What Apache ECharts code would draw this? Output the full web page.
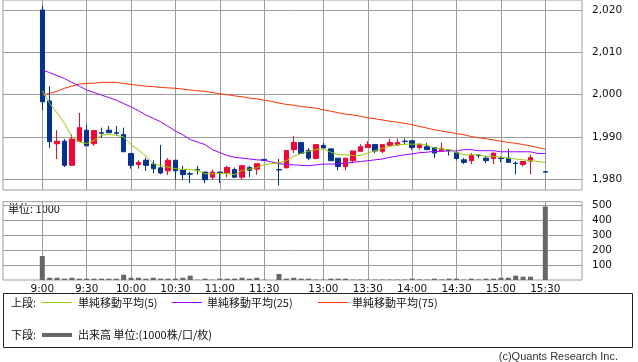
<!DOCTYPE html>
<html>
<head>
<meta charset="utf-8">
<script src="https://cdn.jsdelivr.net/npm/echarts@6/dist/echarts.min.js"></script>
<style>
html,body{margin:0;padding:0;background:#fff;}
#c{width:638px;height:362px;}
</style>
</head>
<body>
<div id="c"></div>
<script>
const categories = [
 '9:00','9:05','9:10','9:15','9:20','9:25','9:30','9:35','9:40','9:45','9:50','9:55',
 '10:00','10:05','10:10','10:15','10:20','10:25','10:30','10:35','10:40','10:45','10:50','10:55',
 '11:00','11:05','11:10','11:15','11:20','11:25','11:30',
 '',
 '12:30','12:35','12:40','12:45','12:50','12:55',
 '13:00','13:05','13:10','13:15','13:20','13:25','13:30','13:35','13:40','13:45','13:50','13:55',
 '14:00','14:05','14:10','14:15','14:20','14:25','14:30','14:35','14:40','14:45','14:50','14:55',
 '15:00','15:05','15:10','15:15','15:20','15:25','15:30'
];
const tickLabels = ['9:00','9:30','10:00','10:30','11:00','11:30','13:00','13:30','14:00','14:30','15:00','15:30'];
const priceTicks = [1980, 1990, 2000, 2010, 2020];
const volumeTicks = [100, 200, 300, 400, 500];

const opens = [
 2020.0,1998.5,1988.4,1989.0,1983.3,1988.9,1991.6,1988.4,1991.0,1991.6,1991.0,1990.6,
 1986.1,1983.5,1984.5,1983.6,1982.7,1982.0,1984.5,1982.2,1981.3,1982.3,1981.7,1980.5,
 1981.7,1981.5,1982.3,1980.5,1982.8,1982.4,1984.7,
 null,
 1982.3,1982.7,1987.0,1988.7,1986.8,1984.9,
 1988.0,1987.2,1985.0,1983.0,1984.4,1986.6,1987.5,1988.2,1986.6,1988.0,1988.2,1989.0,
 1989.1,1987.5,1987.7,1987.5,1986.7,1986.9,1986.3,1984.6,1984.4,1985.7,1985.0,1984.9,
 1985.0,1985.0,1983.8,1983.5,1984.3,null,1981.8
];
const closes = [
 1998.3,1988.9,1989.0,1983.3,1989.5,1992.2,1987.9,1991.5,1990.9,1991.0,1990.9,1986.5,
 1983.3,1984.0,1983.3,1982.5,1981.5,1984.5,1982.0,1981.1,1981.2,1982.2,1979.9,1981.7,
 1981.6,1982.8,1980.5,1983.2,1982.1,1983.7,1984.4,
 null,
 1982.2,1986.8,1988.7,1986.1,1985.0,1988.2,
 1987.4,1984.4,1983.0,1985.0,1986.7,1987.7,1988.2,1986.7,1988.2,1988.7,1988.7,1988.9,
 1987.5,1988.3,1987.0,1986.2,1987.2,1986.8,1984.9,1984.0,1985.6,1985.6,1984.4,1986.2,
 1984.9,1984.0,1983.7,1984.2,1985.1,null,1981.7
];
const lows = [
 1996.3,1987.4,1984.8,1982.9,1983.3,1988.9,1987.9,1987.9,1989.8,1991.0,1990.4,1986.5,
 1982.5,1982.5,1982.0,1981.4,1981.2,1981.0,1979.9,1979.9,1979.1,1981.1,1979.1,1979.9,
 1979.1,1980.5,1980.3,1979.9,1980.5,1981.1,1984.4,
 null,
 1978.5,1982.7,1986.2,1986.1,1984.5,1984.9,
 1987.2,1984.4,1982.1,1982.1,1983.8,1986.6,1987.5,1986.2,1986.2,1988.0,1987.8,1988.3,
 1987.0,1987.0,1987.0,1985.0,1986.7,1985.6,1984.5,1983.6,1983.6,1985.0,1983.8,1983.6,
 1984.0,1984.0,1981.2,1983.0,1981.2,null,1981.7
];
const highs = [
 2021.0,2002.0,1991.6,1989.5,1990.6,1995.7,1993.0,1991.6,1992.2,1992.6,1992.6,1992.2,
 1986.1,1984.5,1985.1,1984.5,1988.1,1985.0,1984.5,1983.2,1981.8,1983.2,1981.7,1982.3,
 1981.7,1983.2,1982.8,1983.2,1983.2,1983.7,1984.7,
 null,
 1984.8,1986.8,1990.2,1988.7,1987.4,1988.2,
 1988.6,1987.2,1985.0,1985.0,1986.7,1988.3,1989.0,1988.2,1988.2,1989.6,1989.6,1989.6,
 1989.1,1988.3,1988.6,1987.5,1988.7,1987.0,1986.6,1985.0,1986.2,1985.8,1985.4,1986.2,
 1985.4,1987.2,1984.2,1984.2,1985.8,null,1981.8
];
const ma5 = [
 2000.9,1997.9,1995.7,1993.2,1990.0,1988.85,1988.45,1989.2,1990.4,1990.6,1990.4,1990.0,
 1988.2,1986.9,1985.5,1983.7,1983.2,1982.9,1982.5,1982.3,1982.3,1982.1,1981.3,1981.3,
 1981.3,1981.4,1981.1,1982.1,1982.4,1982.7,1983.5,
 1983.7,
 1983.9,1984.4,1985.4,1986.1,1986.6,1987.0,
 1987.2,1986.4,1985.8,1985.8,1985.6,1985.6,1986.2,1986.8,1987.3,1987.8,1988.1,1988.3,
 1988.3,1988.3,1988.1,1987.4,1987.1,1987.0,1986.3,1985.8,1985.8,1985.8,1985.4,1985.4,
 1985.2,1985.0,1984.8,1984.6,1984.4,1984.2,1984.0
];
const ma25 = [
 2005.8,2005.2,2004.5,2003.8,2002.9,2002.0,2001.1,2000.5,1999.9,1999.3,1998.7,1997.9,
 1997.1,1996.2,1995.2,1994.4,1993.6,1992.5,1991.4,1990.5,1989.4,1988.8,1988.2,1987.0,
 1986.3,1985.6,1985.2,1985.0,1984.8,1984.6,1984.5,
 1984.1,
 1983.7,1983.5,1983.4,1983.3,1983.2,1983.4,
 1983.6,1983.6,1983.65,1983.8,1984.0,1984.2,1984.4,1984.6,1984.8,1985.2,1985.5,1985.8,
 1986.0,1986.3,1986.4,1986.6,1986.6,1986.7,1986.7,1987.0,1987.0,1986.75,1986.75,1986.75,
 1986.5,1986.5,1986.5,1986.5,1986.5,1986.1,1986.1
];
const ma75 = [
 1999.9,2000.3,2000.8,2001.5,2002.0,2002.5,2002.65,2002.7,2002.9,2002.9,2002.9,2002.65,
 2002.4,2002.2,2002.0,2001.9,2001.7,2001.6,2001.5,2001.3,2001.1,2000.9,2000.8,2000.5,
 2000.2,2000.0,1999.7,1999.5,1999.2,1999.0,1998.7,
 1998.4,
 1998.0,1997.7,1997.5,1997.2,1997.0,1996.8,
 1996.4,1996.1,1995.7,1995.4,1995.2,1994.9,1994.5,1994.3,1994.0,1993.7,1993.5,1993.2,
 1992.9,1992.5,1992.1,1991.7,1991.4,1991.1,1990.8,1990.5,1990.1,1989.8,1989.6,1989.3,
 1989.0,1988.7,1988.5,1988.2,1987.9,1987.5,1987.1
];
const volumes = [
 160,15,15,9,15,9,9,9,9,9,9,35,
 15,15,9,15,9,9,9,15,29,2,9,2,
 9,9,9,15,9,15,2,
 null,
 40,9,15,9,9,3,
 3,9,9,9,3,3,3,3,3,3,3,3,
 9,4,3,9,4,9,9,3,9,4,9,9,
 15,15,29,22,22,null,490
];

const candleData = opens.map((o, i) => o == null ? '-' : [o, closes[i], lows[i], highs[i]]);
const volData = volumes.map(v => v == null ? '-' : v);

const GRID_COLOR = '#9c9c9c';
const LABEL_FONT = 'DejaVu Sans, Noto Sans CJK JP, sans-serif';
const JP_FONT = 'Noto Sans CJK JP, DejaVu Sans, sans-serif';
const showAt = (i, v) => tickLabels.indexOf(v) >= 0;

const hiddenValue = (gi) => ({ type: 'value', gridIndex: gi, show: false, min: 0, max: 1 });

const chart = echarts.init(document.getElementById('c'), null, { renderer: 'canvas' });
chart.setOption({
  animation: false,
  backgroundColor: '#fff',
  grid: [
    { left: 3, top: 0, width: 579, height: 190, show: true, borderColor: GRID_COLOR, borderWidth: 1, backgroundColor: 'transparent', outerBoundsMode: 'none' },
    { left: 3, top: 10, width: 579, height: 169.3, outerBoundsMode: 'none' },
    { left: 42.3, top: 0, width: 503, height: 190, outerBoundsMode: 'none' },
    { left: 3, top: 201.7, width: 579, height: 78.3, show: true, borderColor: GRID_COLOR, borderWidth: 1, backgroundColor: 'transparent', outerBoundsMode: 'none' },
    { left: 3, top: 205, width: 579, height: 60, outerBoundsMode: 'none' },
    { left: 42.3, top: 201.7, width: 503, height: 78.3, outerBoundsMode: 'none' }
  ],
  xAxis: [
    hiddenValue(0),
    hiddenValue(1),
    { type: 'category', gridIndex: 2, data: categories, boundaryGap: false,
      axisLine: { show: false }, axisTick: { show: false }, axisLabel: { show: false },
      splitLine: { show: true, interval: showAt, lineStyle: { color: GRID_COLOR, width: 1 } } },
    hiddenValue(3),
    hiddenValue(4),
    { type: 'category', gridIndex: 5, data: categories, boundaryGap: false,
      axisLine: { show: false }, axisTick: { show: false },
      axisLabel: { show: true, interval: showAt, margin: 4, color: '#111', fontSize: 10.5, fontFamily: LABEL_FONT },
      splitLine: { show: true, interval: showAt, lineStyle: { color: GRID_COLOR, width: 1 } } }
  ],
  yAxis: [
    hiddenValue(0),
    { type: 'value', gridIndex: 1, position: 'right', min: priceTicks[0], max: priceTicks[priceTicks.length - 1], interval: 10,
      axisLine: { show: false },
      axisTick: { show: true, length: 6, lineStyle: { color: GRID_COLOR } },
      axisLabel: { margin: 10, color: '#111', fontSize: 10.5, fontFamily: LABEL_FONT,
        formatter: v => Number(v).toLocaleString('en-US') },
      splitLine: { show: true, lineStyle: { color: GRID_COLOR, width: 1 } } },
    { type: 'value', gridIndex: 2, show: false, min: 1977.47, max: 2022.36, scale: true },
    hiddenValue(3),
    { type: 'value', gridIndex: 4, position: 'right', min: volumeTicks[0], max: volumeTicks[volumeTicks.length - 1], interval: 100,
      axisLine: { show: false },
      axisTick: { show: true, length: 6, lineStyle: { color: GRID_COLOR } },
      axisLabel: { margin: 10, color: '#111', fontSize: 10.5, fontFamily: LABEL_FONT },
      splitLine: { show: true, lineStyle: { color: GRID_COLOR, width: 1 } } },
    { type: 'value', gridIndex: 5, show: false, min: 0, max: 522 }
  ],
  series: [
    { name: '株価', type: 'candlestick', xAxisIndex: 2, yAxisIndex: 2, data: candleData, clip: false,
      barWidth: 5,
      itemStyle: { color: '#ff0033', color0: '#003399', borderColor: '#ff0033', borderColor0: '#003399', borderWidth: 1 } },
    { name: '単純移動平均(75)', type: 'line', xAxisIndex: 2, yAxisIndex: 2, data: ma75, clip: false,
      showSymbol: false, symbol: 'none', lineStyle: { color: '#ff3300', width: 1 } },
    { name: '単純移動平均(25)', type: 'line', xAxisIndex: 2, yAxisIndex: 2, data: ma25, clip: false,
      showSymbol: false, symbol: 'none', lineStyle: { color: '#9900ff', width: 1 } },
    { name: '単純移動平均(5)', type: 'line', xAxisIndex: 2, yAxisIndex: 2, data: ma5, clip: false,
      showSymbol: false, symbol: 'none', lineStyle: { color: '#99cc00', width: 1 } },
    { name: '出来高', type: 'bar', xAxisIndex: 5, yAxisIndex: 5, data: volData, clip: false,
      barWidth: 5, itemStyle: { color: '#666666' } }
  ],
  graphic: [
    { type: 'text', left: 8, top: 203, style: { text: '単位: 1000', fontSize: 11, fontFamily: JP_FONT, fill: '#111' } },
    { type: 'rect', shape: { x: 3.5, y: 293.5, width: 629, height: 54 }, style: { fill: 'none', stroke: '#222', lineWidth: 1 } },
    { type: 'text', x: 11, y: 303, style: { text: '上段:', fontSize: 11, fontFamily: JP_FONT, fill: '#111', verticalAlign: 'middle' } },
    { type: 'line', shape: { x1: 42, y1: 302.5, x2: 72, y2: 302.5 }, style: { stroke: '#99cc00', lineWidth: 1 } },
    { type: 'text', x: 78, y: 303, style: { text: '単純移動平均(5)', fontSize: 11, fontFamily: JP_FONT, fill: '#111', verticalAlign: 'middle' } },
    { type: 'line', shape: { x1: 172, y1: 302.5, x2: 202, y2: 302.5 }, style: { stroke: '#9900ff', lineWidth: 1 } },
    { type: 'text', x: 207, y: 303, style: { text: '単純移動平均(25)', fontSize: 11, fontFamily: JP_FONT, fill: '#111', verticalAlign: 'middle' } },
    { type: 'line', shape: { x1: 318, y1: 302.5, x2: 348, y2: 302.5 }, style: { stroke: '#ff3300', lineWidth: 1 } },
    { type: 'text', x: 352, y: 303, style: { text: '単純移動平均(75)', fontSize: 11, fontFamily: JP_FONT, fill: '#111', verticalAlign: 'middle' } },
    { type: 'text', x: 11, y: 335, style: { text: '下段:', fontSize: 11, fontFamily: JP_FONT, fill: '#111', verticalAlign: 'middle' } },
    { type: 'line', shape: { x1: 42, y1: 335, x2: 72, y2: 335 }, style: { stroke: '#666666', lineWidth: 4 } },
    { type: 'text', x: 78, y: 335, style: { text: '出来高 単位:(1000株/口/枚)', fontSize: 11, fontFamily: JP_FONT, fill: '#111', verticalAlign: 'middle' } },
    { type: 'text', x: 618, y: 357, style: { text: '(c)Quants Research Inc.', fontSize: 11, fontFamily: 'Liberation Sans, DejaVu Sans, sans-serif', fill: '#333', align: 'right', verticalAlign: 'middle' } }
  ]
});
</script>
</body>
</html>
